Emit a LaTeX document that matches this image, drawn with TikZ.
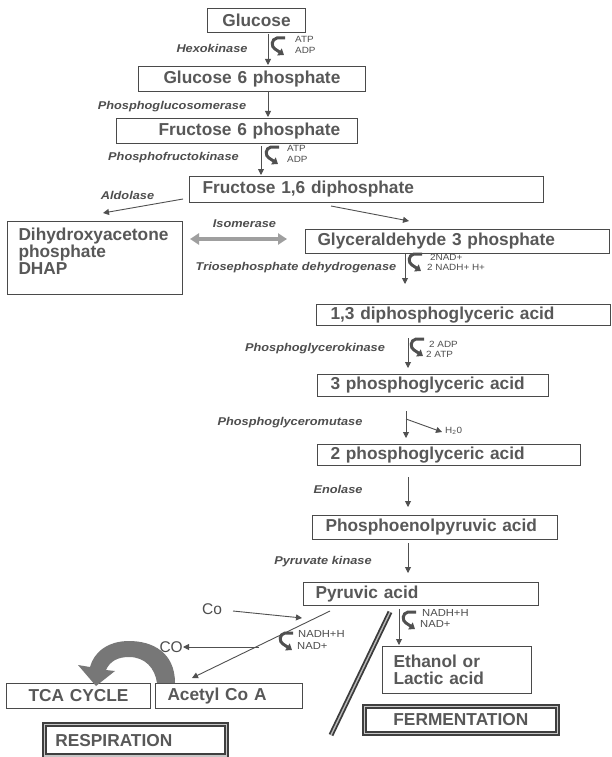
\documentclass[tikz,border=0pt]{standalone}
\usepackage{fontspec}
\setmainfont{Liberation Sans}
\newfontfamily\enzfont[FakeStretch=1.13]{Liberation Sans}
\newfontfamily\smfont[FakeStretch=1.1]{Liberation Sans}
\usetikzlibrary{arrows.meta}
\definecolor{txt}{HTML}{585858}
\definecolor{etxt}{HTML}{4E4E4E}
\definecolor{ln}{HTML}{505050}
\definecolor{bord}{HTML}{4A4A4A}
\definecolor{bigarr}{HTML}{777777}
\tikzset{
  box/.style={draw=bord, line width=1pt, anchor=north west, inner xsep=0pt, inner ysep=0pt,
    text=txt, font=\fontsize{17.3}{17}\selectfont\bfseries, align=left},
  dbl/.style={draw=bord!85!black, line width=1.7pt, double=gray!45, double distance=1.6pt},
  enz/.style={text=etxt, font=\enzfont\fontsize{11.3}{12}\selectfont\bfseries\itshape, inner sep=0pt},
  small/.style={text=etxt, font=\smfont\fontsize{9}{9}\selectfont, inner sep=0pt, anchor=west},
  mid/.style={text=etxt, font=\smfont\fontsize{10.2}{11}\selectfont, inner sep=0pt, anchor=west},
  big/.style={text=etxt, font=\fontsize{15.5}{16}\selectfont, inner sep=0pt},
  arr/.style={draw=ln, line width=0.9pt, -{Triangle[length=6pt,width=6pt]}},
  cycarr/.style={draw=ln, line width=3pt, -{Triangle[length=5.5pt,width=8pt]}},
}
\newcommand{\gbox}[8]{\node[box,#1,minimum width={(#5-#3)*1pt},text width={(#5-#3)*1pt},minimum height={(#6-#4)*1pt}] (#2) at (#3,#4) {\hspace*{#7pt}#8};}
\newcommand{\cyc}[2]{\draw[cycarr] ({#1+14},{#2}) -- ({#1+6},{#2}) .. controls ({#1},{#2+1}) and ({#1},{#2+9}) .. ({#1+4},{#2+11}) -- ({#1+13},{#2+17});}
\begin{document}
\begin{tikzpicture}[x=1pt,y=-1pt]
\fill[white] (0,0) rectangle (611,757);
\useasboundingbox (0,0) rectangle (611,757);

% boxes
\gbox{align=center}{glu}{207}{8}{305}{32}{0}{Glucose}
\gbox{}{g6p}{138}{66}{365}{91}{25}{Glucose 6 phosphate}
\gbox{}{f6p}{116}{118}{357}{143}{42}{Fructose 6 phosphate}
\gbox{}{f16}{189}{176}{543}{202}{13}{Fructose 1,6 diphosphate}
\gbox{}{dhap}{7}{221}{182}{294}{11}{Dihydroxyacetone\\\hspace*{11pt}phosphate\\\hspace*{11pt}DHAP\rule[-14pt]{0pt}{1pt}}
\gbox{}{ga3p}{305}{229}{609}{253}{12}{Glyceraldehyde 3 phosphate}
\gbox{}{dpg}{316}{304}{610}{325}{14}{1,3 diphosphoglyceric acid}
\gbox{}{pgc}{317}{374}{548}{396}{13}{3 phosphoglyceric acid}
\gbox{}{pgb}{317}{444}{580}{465}{13}{2 phosphoglyceric acid}
\gbox{}{pep}{312}{515}{557}{539}{13}{Phosphoenolpyruvic acid}
\gbox{}{pyr}{303}{582}{538}{605}{12}{Pyruvic acid}
\gbox{}{eth}{382}{646}{531}{693}{11}{Ethanol or\\\hspace*{11pt}Lactic acid}
\gbox{}{acc}{155}{683}{302}{708}{12}{Acetyl Co A}
\gbox{align=center}{tca}{6}{683}{150}{708}{0}{TCA CYCLE}
\gbox{dbl}{resp}{43.5}{723.5}{225.5}{755}{11}{RESPIRATION}
\gbox{dbl,align=center}{ferm}{363.5}{705.5}{556.5}{732.5}{0}{FERMENTATION}

% enzyme labels
\node[enz] (hexo) at (212,48) {Hexokinase};
\node[enz] (pgi) at (172,107) {Phosphoglucosomerase};
\node[enz] (pfk) at (173.5,158) {Phosphofructokinase};
\node[enz] (ald) at (127.5,195) {Aldolase};
\node[enz] (iso) at (244.5,224) {Isomerase};
\node[enz] (tpd) at (296,268) {Triosephosphate dehydrogenase};
\node[enz] (pgk) at (315,349) {Phosphoglycerokinase};
\node[enz] (pgm) at (290,423) {Phosphoglyceromutase};
\node[enz] (eno) at (338,489) {Enolase};
\node[enz] (pk) at (323,562) {Pyruvate kinase};

% small labels
\node[small] (atpa) at (295,39) {ATP};
\node[small] (adpa) at (295,50) {ADP};
\node[small] (atpb) at (287,148) {ATP};
\node[small] (adpb) at (287,159) {ADP};
\node[small] (nada) at (430,257) {2NAD+};
\node[small] (nadha) at (427,267) {2 NADH+ H+};
\node[small] (adpc) at (429,344) {2 ADP};
\node[small] (atpc) at (426,354) {2 ATP};
\node[small] (water) at (445,431) {H\textsubscript{2}0};
\node[mid] (nadhr) at (422,613) {NADH+H};
\node[mid] (nadr) at (420,624) {NAD+};
\node[mid] (nadhl) at (298,634) {NADH+H};
\node[mid] (nadl) at (297,646) {NAD+};
\node[big] (co) at (212,609) {Co};
\node[big,anchor=east] (cot) at (183,647) {CO};

% coordinates for arrows
\coordinate (a1) at (268,34);  \coordinate (a2) at (268,65);
\coordinate (b1) at (268,91);  \coordinate (b2) at (268,117);
\coordinate (c1) at (261,146); \coordinate (c2) at (261,175);
\coordinate (d1) at (405,254); \coordinate (d2) at (405,284);
\coordinate (e1) at (408,338); \coordinate (e2) at (408,368);
\coordinate (f1) at (406,411); \coordinate (f2) at (406,438);
\coordinate (fw) at (406,419); \coordinate (fx) at (442,432);
\coordinate (g1) at (408,477); \coordinate (g2) at (408,507);
\coordinate (h1) at (408,543); \coordinate (h2) at (408,573);
\coordinate (al1) at (183,199); \coordinate (al2) at (103,213);
\coordinate (ar1) at (331,206); \coordinate (ar2) at (409,221);
\coordinate (is1) at (190,239); \coordinate (is2) at (287,239);
\coordinate (co1) at (233,611); \coordinate (co2) at (302,618);
\coordinate (dg1) at (330,611); \coordinate (dg2) at (192,678);
\coordinate (cx) at (259,647);
\coordinate (fr1) at (399,609); \coordinate (fr2) at (399,645);
\coordinate (sp1) at (390,612); \coordinate (sp2) at (331,735);

% straight arrows
\draw[arr] (a1) -- (a2);
\draw[arr] (b1) -- (b2);
\draw[arr] (c1) -- (c2);
\draw[arr] (d1) -- (d2);
\draw[arr] (e1) -- (e2);
\draw[arr] (f1) -- (f2);
\draw[arr] (fw) -- (fx);
\draw[arr] (g1) -- (g2);
\draw[arr] (h1) -- (h2);
\draw[arr] (al1) -- (al2);
\draw[arr] (ar1) -- (ar2);
\draw[draw=gray!75, line width=3.5pt, {Triangle[length=9pt,width=11pt]}-{Triangle[length=9pt,width=11pt]}] (is1) -- (is2);
\draw[arr] (co1) -- (co2);
\draw[arr] (dg1) -- (dg2);
\draw[arr] (cx) -- (cot.east);
\draw[arr] (fr1) -- (fr2);

% separator double line
\draw[draw=bord!80!black, line width=1.8pt, double=gray!55, double distance=1.4pt] (sp1) -- (sp2);

% cofactor hooks
\cyc{271}{38}
\cyc{265}{147}
\cyc{408}{254}
\cyc{410}{339}
\cyc{402}{612}
\cyc{279}{633}

% big curved arrow from Acetyl Co A to TCA cycle
\fill[bigarr] (175,683) .. controls (175,652) and (152,641) .. (129,641)
  .. controls (108,641) and (94,652) .. (90,667)
  -- (78,665) -- (96,686) -- (115,671) -- (106,670)
  .. controls (110,661) and (118,657) .. (129,657)
  .. controls (145,657) and (155,668) .. (157,683) -- cycle;
\end{tikzpicture}
\end{document}
